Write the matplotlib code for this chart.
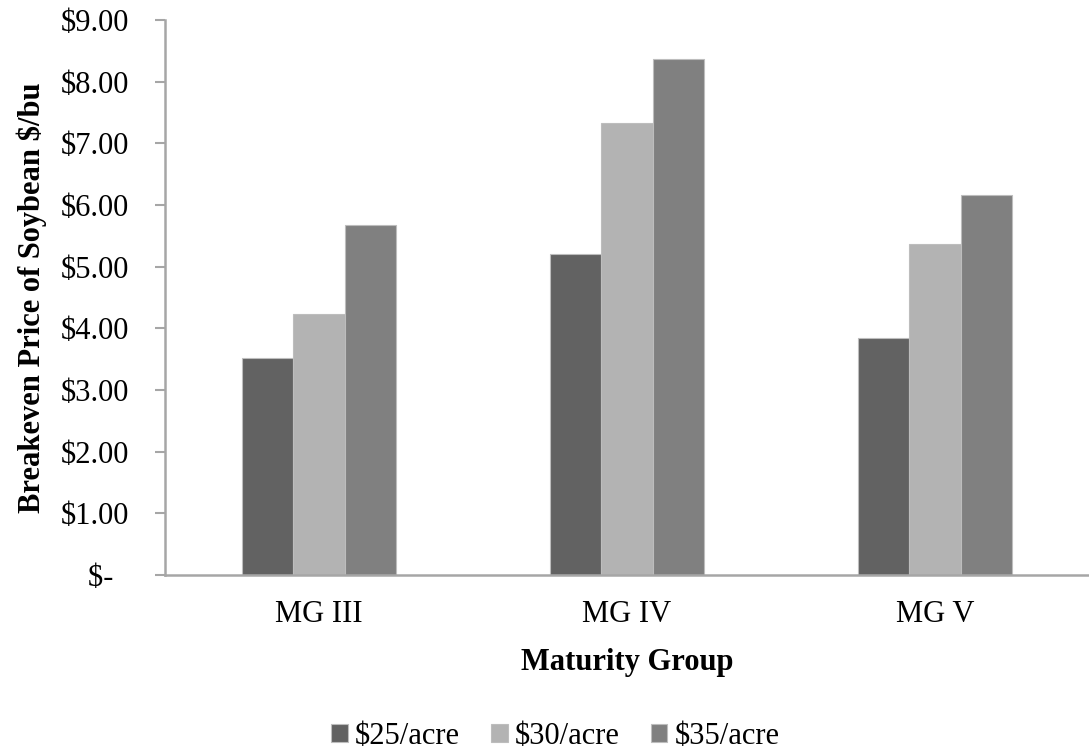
import numpy as np
import matplotlib
matplotlib.use("Agg")
import matplotlib.pyplot as plt

groups = ["MG III", "MG IV", "MG V"]
series_names = ["$25/acre", "$30/acre", "$35/acre"]
cost_25 = [3.52, 5.21, 3.85]
cost_30 = [4.24, 7.33, 5.37]
cost_35 = [5.67, 8.37, 6.16]
y_ticks = [0, 1, 2, 3, 4, 5, 6, 7, 8, 9]
y_tick_labels = ["$-  ", "$1.00", "$2.00", "$3.00", "$4.00", "$5.00",
                 "$6.00", "$7.00", "$8.00", "$9.00"]

colors = ["#626262", "#b3b3b3", "#808080"]
axis_grey = "#a6a6a6"

plt.rcParams["font.family"] = ["Liberation Serif", "DejaVu Serif"]

fig = plt.figure(figsize=(10.89, 7.53), dpi=100)
ax = fig.add_axes([0.1515, 0.2364, 0.8485, 0.737])

x = np.arange(len(groups))
width = 0.166
for i, (vals, name) in enumerate(zip([cost_25, cost_30, cost_35], series_names)):
    ax.bar(x + (i - 1) * width, vals, width, color=colors[i], label=name,
           edgecolor="#bdbdbd", linewidth=0.8)

ax.set_xlim(-0.5, 2.5)
ax.set_ylim(0, 9)
ax.set_xticks(x)
ax.set_xticklabels(groups, fontsize=22)
ax.set_yticks(y_ticks)
ax.set_yticklabels(y_tick_labels, fontsize=22)
ax.tick_params(axis="x", length=0, pad=18)
ax.tick_params(axis="y", direction="out", length=7, width=1.5,
               color=axis_grey, pad=19)

for side in ["top", "right"]:
    ax.spines[side].set_visible(False)
for side in ["left", "bottom"]:
    ax.spines[side].set_color(axis_grey)
    ax.spines[side].set_linewidth(1.8)

ax.set_xlabel("Maturity Group", fontsize=22, fontweight="bold", labelpad=14)
ax.set_ylabel("Breakeven Price of Soybean $/bu", fontsize=22,
              fontweight="bold")
ax.yaxis.set_label_coords(-0.128, 0.5)

fig.legend(loc="center", bbox_to_anchor=(0.51, 0.022), ncol=3, frameon=False,
           fontsize=22, handlelength=0.55, handleheight=0.55,
           handletextpad=0.25, columnspacing=1.0)

fig.savefig("out.png", dpi=100)
